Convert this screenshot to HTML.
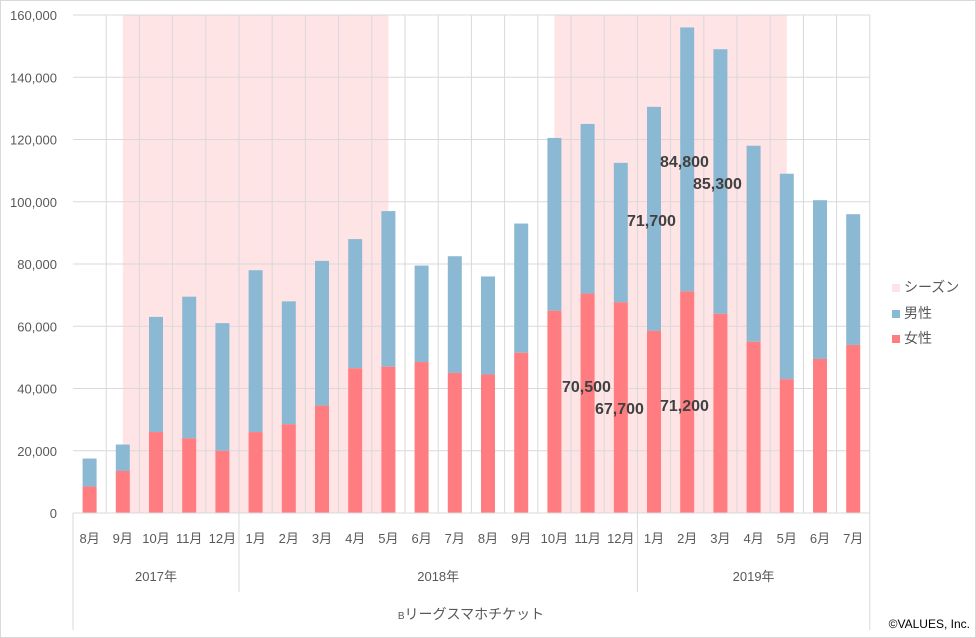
<!DOCTYPE html>
<html><head><meta charset="utf-8"><style>
body{margin:0;background:#fff}
svg{display:block;font-family:"Liberation Sans","Noto Sans CJK JP",sans-serif}
</style></head><body>
<svg id="s" width="976" height="638" viewBox="0 0 976 638"></svg>
<script>
var f=[8500,13500,26000,24000,20000,26000,28500,34500,46500,47000,48500,45000,44500,51500,65000,70500,67700,58500,71200,64000,55000,43000,49500,54000];
var t=[17500,22000,63000,69500,61000,78000,68000,81000,88000,97000,79500,82500,76000,93000,120500,125000,112500,130500,156000,149000,118000,109000,100500,96000];
var m=["8月","9月","10月","11月","12月","1月","2月","3月","4月","5月","6月","7月","8月","9月","10月","11月","12月","1月","2月","3月","4月","5月","6月","7月"];
var L=73,S=33.2,B=513,k=498/160000,R=L+24*S;
function y(v){return B-v*k}
function cx(i){return L+S*(i+0.5)}
var h='<rect x="0.5" y="0.5" width="975" height="637" fill="#fff" stroke="#d9d9d9"/>';
h+='<rect x="'+cx(1)+'" y="15" width="'+(cx(9)-cx(1))+'" height="498" fill="#ffe4e6"/>';
h+='<rect x="'+cx(14)+'" y="15" width="'+(cx(21)-cx(14))+'" height="498" fill="#ffe4e6"/>';
for(var v=20000;v<=160000;v+=20000)h+='<line x1="'+L+'" x2="'+R+'" y1="'+y(v)+'" y2="'+y(v)+'" stroke="#d9d9d9"/>';
for(var i=1;i<=24;i++){var x=L+S*i;h+='<line x1="'+x+'" x2="'+x+'" y1="15" y2="513" stroke="#d9d9d9"/>';}
for(var i=0;i<24;i++){var x=cx(i)-7;
h+='<rect x="'+x+'" y="'+y(t[i])+'" width="14" height="'+((t[i]-f[i])*k)+'" fill="#8bb9d3"/>';
h+='<rect x="'+x+'" y="'+y(f[i])+'" width="14" height="'+(f[i]*k)+'" fill="#ff7c80"/>';
h+='<text x="'+cx(i)+'" y="543" font-size="13" fill="#595959" text-anchor="middle">'+m[i]+'</text>';}
h+='<line x1="'+L+'" x2="'+R+'" y1="513" y2="513" stroke="#d9d9d9"/>';
h+='<line x1="'+L+'" x2="'+L+'" y1="513" y2="630" stroke="#d9d9d9"/>';
[5,17].forEach(function(j){var x=L+S*j;h+='<line x1="'+x+'" x2="'+x+'" y1="513" y2="592" stroke="#d9d9d9"/>';});
h+='<line x1="'+R+'" x2="'+R+'" y1="513" y2="630" stroke="#d9d9d9"/>';
for(var v=0;v<=160000;v+=20000)h+='<text x="57" y="'+(y(v)+5)+'" font-size="13" fill="#595959" text-anchor="end">'+v.toLocaleString("en-US")+'</text>';
h+='<text x="'+(L+2.5*S)+'" y="581" font-size="13" fill="#595959" text-anchor="middle">2017年</text>';
h+='<text x="'+(L+11*S)+'" y="581" font-size="13" fill="#595959" text-anchor="middle">2018年</text>';
h+='<text x="'+(L+20.5*S)+'" y="581" font-size="13" fill="#595959" text-anchor="middle">2019年</text>';
h+='<text x="471" y="619" font-size="14" fill="#595959" text-anchor="middle"><tspan font-size="10">B</tspan>リーグスマホチケット</text>';
h+='<text x="970" y="628" font-size="12" fill="#000" text-anchor="end">©VALUES, Inc.</text>';
var lg=[["シーズン","#ffe4e6",292],["男性","#8bb9d3",318],["女性","#ff7c80",343]];
lg.forEach(function(a){h+='<rect x="892" y="'+(a[2]-8)+'" width="8" height="8" fill="'+a[1]+'"/><text x="904" y="'+a[2]+'" font-size="14" fill="#595959">'+a[0]+'</text>';});
var lb=[["84,800",660,167],["85,300",693,189],["71,700",627,226],["70,500",562,392],["67,700",595,414],["71,200",660,411]];
lb.forEach(function(a){h+='<text x="'+a[1]+'" y="'+a[2]+'" font-size="16" font-weight="bold" fill="#404040">'+a[0]+'</text>';});
document.getElementById("s").innerHTML=h;
</script>
</body></html>
